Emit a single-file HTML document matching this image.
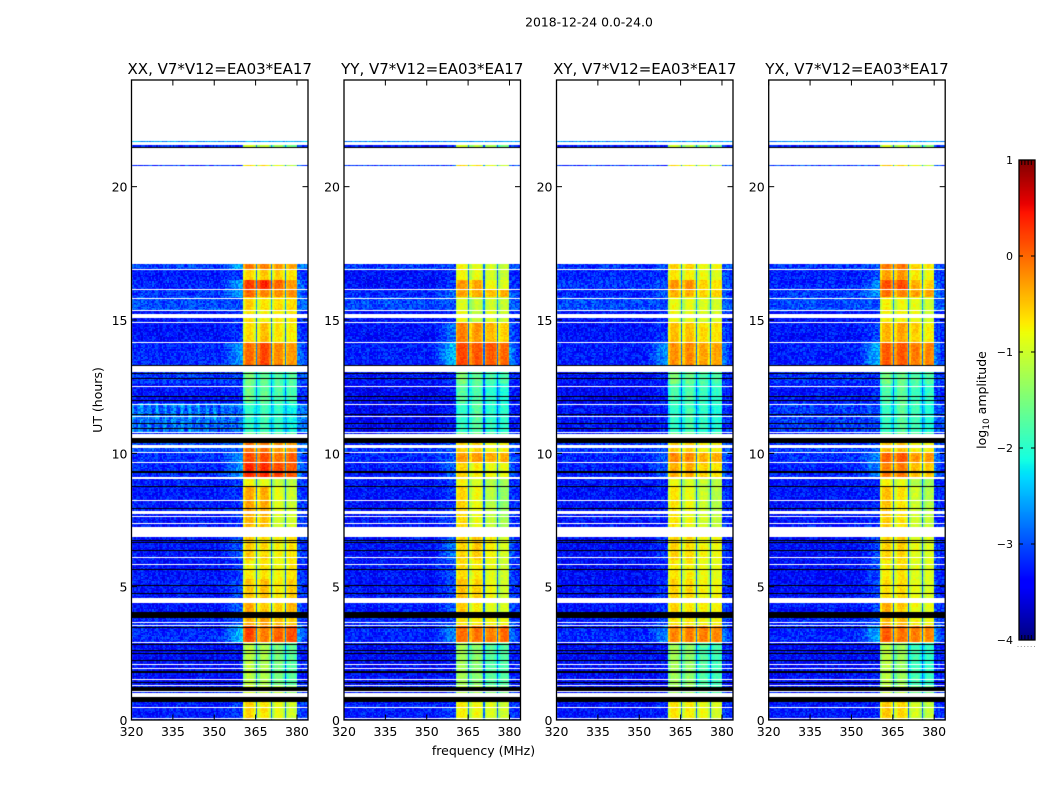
<!DOCTYPE html>
<html>
<head>
<meta charset="utf-8">
<title>2018-12-24 0.0-24.0</title>
<style>
html,body{margin:0;padding:0;background:#fff;}
#figure{position:relative;width:1050px;height:800px;overflow:hidden;background:#fff;font-family:"DejaVu Sans","Liberation Sans",sans-serif;}
#figure canvas{position:absolute;display:block;}
#figure svg{position:absolute;left:0;top:0;}
</style>
</head>
<body>
<div id="figure"></div>
<script>
// ---- axis tick labels and panel names ----
const panelTitles = ["XX, V7*V12=EA03*EA17","YY, V7*V12=EA03*EA17","XY, V7*V12=EA03*EA17","YX, V7*V12=EA03*EA17"];
const panelIds = ["xx","yy","xy","yx"];
const xTicks = [320,335,350,365,380];
const yTicks = [0,5,10,15,20];
const cbTicks = [1,0,-1,-2,-3,-4];
const freqRange = [320,384];
const timeRange = [0,24];
const ampRange = [-4,1];

// ---- sub-band edges (MHz) ----
const subbandStart = [360.5,365.5,370.75,375.75];
const subbandEnd = [365,370.25,375.25,380];

// ---- lower UT edge (hours) of each block of similar amplitude ----
const bandStart = [0,0.69,1.3,2.9,3.55,3.85,4.4,5.3,6,6.87,7.7,8.75,9.05,9.65,10.05,10.4,10.73,11.9,12.6,13.3,14.15,14.9,15.35,15.83,16.13,16.5,16.88,20.72,21.45,21.67];

// ---- log10 amplitude per block: [background, shoulder, sb1, sb2, sb3, sb4] ----
const levelsXX = [
[-3.15,-3,-.6,-.7,-.9,-1.05],[-3.2,-3.1,-1,-1.1,-1.2,-1.4],[-3.25,-3.2,-1.15,-1.25,-1.55,-1.75],
[-3.1,-2.3,.15,-.15,0,.1],[-3.1,-2.9,-.4,-.35,-.5,-.6],[-3.2,-2.8,-.35,-.55,-.6,-.45],
[-3.2,-2.9,-.55,-.5,-.75,-.6],[-3.2,-3,-.75,-.7,-.8,-.7],[-3.2,-2.85,-.55,-.65,-.8,-.7],
[-3.2,-3,-.45,-.5,-1,-1],[-3.15,-3,-.35,-.4,-.9,-1.05],[-3.15,-3,-.8,-.9,-1.1,-1.2],
[-3.1,-2.5,.3,.3,.15,.05],[-3.05,-2.6,.15,.1,-.1,0],[-2.9,-2.8,-.1,-.1,-.3,-.3],
[-3.2,-3.1,-1.6,-1.6,-1.8,-1.8],[-2.8,-2.8,-2,-1.9,-2,-2.2],[-3.2,-3.1,-1.6,-1.7,-1.8,-1.85],
[-3,-3,-1.55,-1.7,-1.8,-1.8],[-3.1,-2.5,-.05,.15,-.2,-.3],[-3.2,-3,-.65,-.5,-.7,-.75],
[-3.2,-3.1,-.7,-.8,-.75,-.75],[-2.9,-2.9,-.6,-.7,-.65,-.65],[-3,-2.5,0,-.2,-.25,-.25],
[-3.1,-2.4,.2,.3,0,-.3],[-3.15,-3,-.6,-.55,-.6,-.7],[-2.95,-2.4,-.15,-.15,-.3,-.4],
[-3,-3,-.6,-.65,-.9,-1.2],[-3.2,-3.2,-1,-1.1,-1.4,-1.6],[-2.5,-2.5,-2.5,-2.5,-2.5,-2.5]];
const levelsYY = [
[-3.15,-3,-.75,-.85,-.95,-1.05],[-3.2,-3.1,-1.2,-1.3,-1.5,-1.6],[-3.25,-3.2,-1.3,-1.45,-1.75,-1.8],
[-3.1,-2.6,-.05,-.1,-.15,-.05],[-3.1,-2.9,-.7,-.75,-.8,-.85],[-3.15,-2.85,-.55,-.75,-.9,-1],
[-3.2,-2.9,-.5,-.6,-.85,-1.05],[-3.2,-2.9,-.65,-.75,-.9,-1.05],[-3.2,-2.7,-.6,-.55,-.75,-1],
[-3.2,-3,-.65,-.9,-1.1,-1.3],[-3.2,-3,-.6,-.85,-1.15,-1.4],[-3.2,-3,-.8,-1,-1.2,-1.3],
[-3.15,-2.8,-.6,-.75,-.85,-.9],[-3.1,-2.8,-.3,-.3,-.4,-.4],[-3,-2.9,-.6,-.6,-.8,-.8],
[-3.2,-3.1,-1.6,-1.6,-1.8,-1.8],[-3.3,-3.2,-2,-1.75,-2,-2.05],[-3.3,-3.2,-1.75,-1.8,-2,-2.1],
[-3.2,-3.1,-1.5,-1.7,-1.85,-1.85],[-3.15,-2.3,.15,.05,.05,-.05],[-3.2,-2.7,-.15,-.3,-.45,-.6],
[-3.2,-3.1,-.85,-1.1,-.95,-1.05],[-2.9,-2.9,-.95,-1.1,-1,-1.1],[-3.1,-2.7,-.35,-.4,-.5,-.4],
[-3.2,-3,-.3,-.35,-.8,-.95],[-3.2,-3.1,-.8,-.9,-1,-1.1],[-3,-2.9,-.8,-.9,-1,-1.1],
[-3,-3,-.6,-.7,-.9,-1.1],[-3.2,-3.2,-1,-1.2,-1.3,-1.6],[-2.6,-2.6,-2.6,-2.6,-2.6,-2.6]];
const levelsXY = [
[-3.2,-3.1,-.7,-.75,-.85,-1],[-3.2,-3.1,-1.3,-1.4,-1.7,-1.8],[-3.25,-3.2,-1.3,-1.4,-1.8,-1.9],
[-3.1,-2.6,-.2,-.15,-.15,-.2],[-3.15,-2.9,-.7,-.7,-.8,-.8],[-3.2,-3,-.6,-.7,-.75,-.8],
[-3.25,-3,-.6,-.65,-.8,-.85],[-3.25,-3.1,-.7,-.75,-.85,-.9],[-3.25,-3,-.6,-.65,-.8,-.85],
[-3.2,-3.1,-.7,-.85,-1,-1.1],[-3.2,-3.1,-.7,-.85,-1.05,-1.2],[-3.2,-3.1,-.85,-1,-1.1,-1.2],
[-3.15,-2.8,-.4,-.4,-.6,-.7],[-3.1,-2.8,-.2,-.2,-.4,-.4],[-3,-2.9,-.6,-.6,-.8,-.8],
[-3.2,-3.1,-1.6,-1.6,-1.8,-1.8],[-3.2,-3.1,-2,-1.85,-2,-2.1],[-3.3,-3.1,-1.85,-1.8,-1.95,-2],
[-3.2,-3.1,-1.5,-1.65,-1.8,-1.85],[-3.15,-2.5,-.25,-.2,-.35,-.35],[-3.2,-3,-.5,-.5,-.65,-.7],
[-3.2,-3.1,-.85,-.9,-.95,-1],[-2.9,-2.9,-.85,-.9,-.95,-1],[-3.1,-2.8,-.4,-.4,-.6,-.6],
[-3,-2.9,-.3,-.25,-.6,-.7],[-3.1,-3,-.7,-.75,-.85,-.95],[-3,-2.9,-.6,-.6,-.8,-.85],
[-3,-3,-.6,-.7,-.9,-1.1],[-3.2,-3.2,-1,-1.2,-1.3,-1.6],[-2.6,-2.6,-2.6,-2.6,-2.6,-2.6]];
const levelsYX = [
[-3.2,-3.1,-.55,-.65,-1,-1.1],[-3.2,-3.1,-1.1,-1.2,-1.6,-1.6],[-3.25,-3.2,-1.15,-1.35,-1.9,-2],
[-3.1,-2.4,.05,-.1,-.15,-.2],[-3.1,-2.9,-.45,-.5,-.8,-.85],[-3.2,-2.9,-.4,-.55,-.85,-.9],
[-3.25,-2.9,-.65,-.65,-.9,-.95],[-3.25,-2.9,-.75,-.7,-.95,-.95],[-3.25,-2.9,-.6,-.6,-.9,-.95],
[-3.2,-3.1,-.55,-.7,-1.05,-1.1],[-3.2,-3.1,-.5,-.7,-1.05,-1.2],[-3.2,-3.1,-.75,-.9,-1.2,-1.3],
[-3.1,-2.6,-.15,-.15,-.5,-.55],[-3.05,-2.6,0,.05,-.3,-.3],[-3,-2.9,-.5,-.5,-.8,-.8],
[-3.2,-3.1,-1.6,-1.6,-1.8,-1.8],[-3,-2.9,-1.95,-1.75,-1.9,-2.1],[-3.2,-3.1,-1.8,-1.7,-1.9,-2],
[-3.05,-3,-1.55,-1.65,-1.8,-1.8],[-3.15,-2.4,.05,.05,-.15,-.2],[-3.2,-2.9,-.45,-.35,-.6,-.75],
[-3.2,-3.1,-.75,-.8,-.85,-1],[-2.9,-2.9,-.75,-.85,-.9,-1.05],[-3,-2.5,-.05,-.2,-.35,-.35],
[-3.1,-2.6,.1,.15,-.4,-.6],[-3.15,-2.9,-.35,-.3,-.75,-.85],[-3,-2.8,-.1,-.1,-.6,-.7],
[-3,-3,-.5,-.6,-.9,-1.1],[-3.2,-3.2,-1,-1.1,-1.3,-1.5],[-2.5,-2.5,-2.5,-2.5,-2.5,-2.5]];
const panelLevels = [levelsXX,levelsYY,levelsXY,levelsYX];

// ---- flagged time ranges [from,to] in UT hours, shared by all panels ----
const whiteGaps = [[.05,.09],[.45,.49],[.86,1.01],[1.05,1.09],[1.28,1.31],[1.5,1.54],[1.91,1.95],[2.06,2.1],[2.89,2.94],[3.53,3.56],[3.62,3.66],[4.38,4.59],[5.81,5.85],[6.08,6.11],[6.87,7.25],[7.35,7.39],[7.61,7.65],[7.71,7.84],[8.21,8.25],[9.05,9.12],[9.64,9.68],[10.01,10.05],[10.19,10.31],[10.56,10.73],[10.76,10.8],[11.35,11.39],[11.81,11.85],[12.5,12.54],[13.06,13.28],[14.14,14.18],[14.87,14.91],[15.08,15.23],[15.33,15.37],[15.77,15.83],[16.11,16.16],[16.87,16.91],[17.1,20.72],[20.76,20.79],[20.83,21.45],[21.56,21.67],[21.71,24]];
const blackGaps = [[.69,.85],[1.09,1.25],[1.37,1.41],[1.78,1.82],[2.21,2.25],[2.48,2.51],[2.59,2.63],[2.81,2.85],[3.45,3.49],[3.84,4.06],[4.73,4.76],[5.03,5.06],[5.62,5.66],[6.36,6.39],[6.65,6.69],[6.71,6.75],[7.91,7.95],[8.74,8.78],[9.28,9.32],[10.4,10.56],[10.91,10.95],[11.1,11.14],[11.44,11.49],[11.95,11.99],[12.1,12.14],[12.81,12.84],[12.96,13.01],[13.27,13.33],[21.45,21.49]];

// ---- amplitude offsets across a sub-band, and baseline comb depth ----
const passband = [-.3,-.05,.02,.06,.06,.06,.02,-.05,-.3];
const baselineComb = [.3,.15,-.05,-.15,-.05,.15];
const combDepth = [1,0,0,.3];
const backgroundTrim = -.12;
// Illustrative speckle only: this texture is not read from the picture.
const speckle = [.22,-.18,.05,-.27,.31,-.08,.14,-.22,.02,.26,-.13,-.3,.18,.07,-.2,.28,-.05,-.25,.11,.34,-.16,.03,-.28,.2,-.1,.09,.25,-.23,-.02,.16,-.32,.12,.29,-.15,-.06,.21,-.26,.08,.33,-.19,.01];

// ---- jet colour map control points ----
const jetRedX=[0,.35,.66,.89,1], jetRedY=[0,0,1,1,.5];
const jetGreenX=[0,.125,.375,.64,.91,1], jetGreenY=[0,0,1,1,0,0];
const jetBlueX=[0,.11,.34,.65,1], jetBlueY=[.5,1,1,0,0];

const plotLefts=[131.5,344,556.5,768.7], plotWidth=176.5, plotTop=80, plotBottom=720;
const cbLeft=1019, cbRight=1035, cbTop=160, cbBottom=640;

function xScale(panel,f){return plotLefts[panel]+(f-freqRange[0])/(freqRange[1]-freqRange[0])*plotWidth;}
function yScale(h){return plotBottom-(h-timeRange[0])/(timeRange[1]-timeRange[0])*(plotBottom-plotTop);}
function cbScale(v){return cbBottom-(v-ampRange[0])/(ampRange[1]-ampRange[0])*(cbBottom-cbTop);}
function interp(xs,ys,t){for(let i=1;i<xs.length;i++){if(t<=xs[i]){return ys[i-1]+(ys[i]-ys[i-1])*(t-xs[i-1])/(xs[i]-xs[i-1]);}}return ys[ys.length-1];}
function jet(v){
  const t=Math.max(0,Math.min(1,(v-ampRange[0])/(ampRange[1]-ampRange[0])));
  return "rgb("+Math.round(255*interp(jetRedX,jetRedY,t))+","+Math.round(255*interp(jetGreenX,jetGreenY,t))+","+Math.round(255*interp(jetBlueX,jetBlueY,t))+")";
}
function bandIndex(h){let b=0;for(let i=0;i<bandStart.length;i++){if(h>=bandStart[i])b=i;}return b;}
function cellLevel(panel,band,f,chan,row){
  const l=panelLevels[panel][band], bg=l[0]+backgroundTrim, sh=l[1]+backgroundTrim;
  const g=speckle[(chan*chan*3+row*row*5+chan*row+panel*11)%speckle.length];
  const comb=(bandStart[band]===10.73)?baselineComb[chan%baselineComb.length]*combDepth[panel]:0;
  if(f<subbandStart[0]){
    const r=(f-351)/(subbandStart[0]-351);
    const ramp=r>0?r*r*(3-2*r):0;
    return bg+(sh-bg)*ramp+g+comb*(f<352?1:.4);
  }
  if(f>=subbandEnd[3]){
    const r=1-(f-subbandEnd[3])/3;
    return bg+(r>0?(sh-bg)*.6*r:0)+.1+g;
  }
  for(let s=0;s<4;s++){
    if(f>=subbandStart[s]&&f<subbandEnd[s]){
      const u=(f-subbandStart[s])/(subbandEnd[s]-subbandStart[s]);
      const k=Math.min(passband.length-1,Math.floor(u*passband.length));
      return l[2+s]+passband[k]+g*.4;
    }
  }
  return bg+.4+g*.5;
}

const figure=document.getElementById('figure');
const channelCount=(freqRange[1]-freqRange[0])*2;
const rowCount=480;

panelIds.forEach(function(id,panel){
  const x0=Math.floor(plotLefts[panel]);
  const cv=document.createElement('canvas');
  
  
  cv.width=Math.round(plotLefts[panel]+plotWidth)-x0;cv.height=plotBottom-plotTop;
  cv.style.left=x0+'px';cv.style.top=plotTop+'px';
  const ctx=cv.getContext('2d');
  ctx.fillStyle='#fff';ctx.fillRect(0,0,cv.width,cv.height);
  for(let r=0;r<rowCount;r++){
    const hLow=timeRange[0]+r*(timeRange[1]-timeRange[0])/rowCount;
    const hHigh=hLow+(timeRange[1]-timeRange[0])/rowCount;
    const band=bandIndex((hLow+hHigh)/2);
    const yA=Math.round(yScale(hHigh))-plotTop, yB=Math.round(yScale(hLow))-plotTop;
    for(let c=0;c<channelCount;c++){
      const f=freqRange[0]+c*.5;
      const xA=Math.round(xScale(panel,f))-x0, xB=Math.round(xScale(panel,f+.5))-x0;
      ctx.fillStyle=jet(cellLevel(panel,band,f+.01,c,r));
      ctx.fillRect(xA,yA,xB-xA,yB-yA);
    }
  }
  function gap(pair,color){
    const yA=Math.round(yScale(pair[1]))-plotTop, yB=Math.round(yScale(pair[0]))-plotTop;
    ctx.fillStyle=color;ctx.fillRect(0,yA,cv.width,Math.max(1,yB-yA));
  }
  blackGaps.forEach(function(p){gap(p,'#000');});
  whiteGaps.forEach(function(p){gap(p,'#fff');});
  figure.appendChild(cv);
});

// colour bar
const cbCanvas=document.createElement('canvas');


cbCanvas.width=cbRight-cbLeft;cbCanvas.height=cbBottom-cbTop;
cbCanvas.style.left=cbLeft+'px';cbCanvas.style.top=cbTop+'px';
(function(){
  const ctx=cbCanvas.getContext('2d');
  for(let y=0;y<cbCanvas.height;y++){
    ctx.fillStyle=jet(ampRange[1]-(y+.5)/cbCanvas.height*(ampRange[1]-ampRange[0]));
    ctx.fillRect(0,y,cbCanvas.width,1);
  }
})();
figure.appendChild(cbCanvas);

// vector overlay
const NS='http://www.w3.org/2000/svg';
const svg=document.createElementNS(NS,'svg');
svg.setAttribute('width','1050');svg.setAttribute('height','800');svg.setAttribute('viewBox','0 0 1050 800');


figure.appendChild(svg);
function mk(tag,attrs,txt){
  const e=document.createElementNS(NS,tag);
  for(const k in attrs){e.setAttribute(k,attrs[k]);}
  if(txt!==undefined){e.textContent=txt;}
  svg.appendChild(e);
  return e;
}
let el;
el=mk('text',{x:589,y:26.5,'text-anchor':'middle','font-size':'12.4px',fill:'#000'},'2018-12-24 0.0-24.0');


el=mk('text',{x:483.5,y:755,'text-anchor':'middle','font-size':'12.5px',fill:'#000'},'frequency (MHz)');


el=mk('text',{x:0,y:0,transform:'translate(102,400) rotate(-90)','text-anchor':'middle','font-size':'12.5px',fill:'#000'},'UT (hours)');



panelIds.forEach(function(id,panel){
  const left=plotLefts[panel], right=left+plotWidth;
  let e;
  e=mk('text',{x:left+plotWidth/2,y:74,'text-anchor':'middle','font-size':'15px',fill:'#000'},panelTitles[panel]);
  
  
  e=mk('rect',{x:left,y:plotTop,width:plotWidth,height:plotBottom-plotTop,fill:'none',stroke:'#000','stroke-width':1.3});
  
  
  xTicks.forEach(function(v){
    const x=xScale(panel,v);
    let t;
    t=mk('line',{x1:x,x2:x,y1:plotBottom,y2:plotBottom-5.5,stroke:'#000','stroke-width':1});
    
    
    t=mk('line',{x1:x,x2:x,y1:plotTop,y2:plotTop+5.5,stroke:'#000','stroke-width':1});
    
    
    t=mk('text',{x:x,y:736,'text-anchor':'middle','font-size':'12.5px',fill:'#000'},String(v));
    
    
  });
  yTicks.forEach(function(v){
    const y=yScale(v);
    let t;
    t=mk('line',{x1:left,x2:left+5.5,y1:y,y2:y,stroke:'#000','stroke-width':1});
    
    
    t=mk('line',{x1:right,x2:right-5.5,y1:y,y2:y,stroke:'#000','stroke-width':1});
    
    
    t=mk('text',{x:left-4,y:y+5,'text-anchor':'end','font-size':'12.5px',fill:'#000'},String(v));
    
    
  });
});

// colour bar frame, ticks, labels
el=mk('rect',{x:cbLeft,y:cbTop,width:cbRight-cbLeft,height:cbBottom-cbTop,fill:'none',stroke:'#000','stroke-width':1.3});


cbTicks.forEach(function(v){
  const y=cbScale(v);
  let t;
  t=mk('line',{x1:cbLeft,x2:cbLeft+4,y1:y,y2:y,stroke:'#000','stroke-width':1});
  
  
  t=mk('line',{x1:cbRight,x2:cbRight-4,y1:y,y2:y,stroke:'#000','stroke-width':1});
  
  
  t=mk('text',{x:1013,y:y+4,'text-anchor':'end','font-size':'11px',fill:'#000'},(v<0?'\u2212':'')+Math.abs(v));
  
  
});
const cbMinorFractions=[.17,.37,.57,.77];
cbMinorFractions.forEach(function(fr){
  const x=cbLeft+fr*(cbRight-cbLeft);
  let t;
  t=mk('line',{x1:x,x2:x,y1:cbTop,y2:cbTop+5,stroke:'#000','stroke-width':1});
  
  
  t=mk('line',{x1:x,x2:x,y1:cbBottom,y2:cbBottom-5,stroke:'#000','stroke-width':1});
  
  
});
el=mk('line',{x1:1017.5,x2:1035,y1:646.5,y2:646.5,stroke:'#999','stroke-width':1,'stroke-dasharray':'1 2.3'});


el=mk('text',{x:0,y:0,transform:'translate(986,400) rotate(-90)','text-anchor':'middle','font-size':'12.5px',fill:'#000'});


el.innerHTML='log<tspan font-size="9px" dy="3">10</tspan><tspan dy="-3"> amplitude</tspan>';
</script>
</body>
</html>
